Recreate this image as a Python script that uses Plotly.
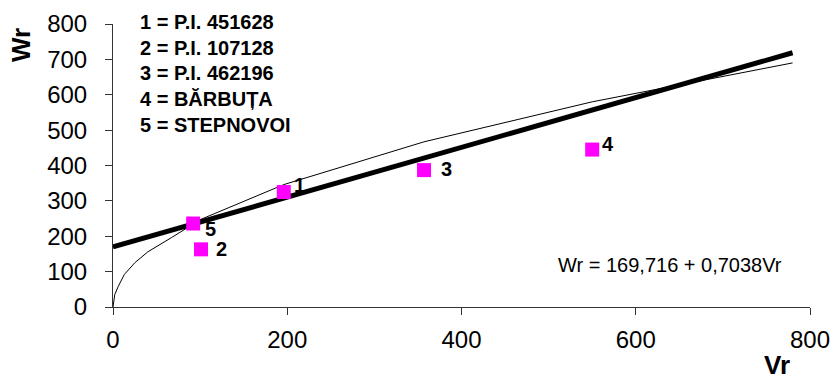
import plotly.graph_objects as go

# Data points (cultivars)
point_labels = ["1", "2", "3", "4", "5"]
point_vr = [196, 101, 357, 550, 92]
point_wr = [325, 163, 387, 445, 236]

# Regression line Wr = 169,716 + 0,7038Vr (endpoints)
reg_vr = [0, 780]
reg_wr = [169.7, 718.7]

# Thin fitted curve
curve_vr = [0, 1, 2, 6, 13, 25, 40, 67, 92, 101, 196, 357, 550, 780]
curve_wr = [0, 22, 35, 58, 92, 125, 156, 196, 236, 248, 346, 467, 580, 690]

legend_lines = ["1 = P.I. 451628", "2 = P.I. 107128", "3 = P.I. 462196",
                "4 = BĂRBUȚA", "5 = STEPNOVOI"]
equation_text = "Wr = 169,716 + 0,7038Vr"

tick_vals = [0, 200, 400, 600, 800]
ytick_vals = [0, 100, 200, 300, 400, 500, 600, 700, 800]

FONT = "Liberation Sans, Arial, sans-serif"

fig = go.Figure()
fig.add_trace(go.Scatter(x=curve_vr, y=curve_wr, mode="lines",
                         line=dict(color="black", width=1), showlegend=False,
                         cliponaxis=False, hoverinfo="skip"))
fig.add_trace(go.Scatter(x=reg_vr, y=reg_wr, mode="lines",
                         line=dict(color="black", width=5), showlegend=False,
                         cliponaxis=False, hoverinfo="skip"))
fig.add_trace(go.Scatter(x=point_vr, y=point_wr, mode="markers",
                         marker=dict(symbol="square", size=14, color="#FF00FF",
                                     line=dict(width=0)),
                         showlegend=False, cliponaxis=False))

# point labels
label_shift = {"1": (16, 7), "2": (20, 0), "3": (22, 1), "4": (16, 6), "5": (17, -5)}
for lab, xv, yv in zip(point_labels, point_vr, point_wr):
    dx, dy = label_shift[lab]
    fig.add_annotation(x=xv, y=yv, text=f"<b>{lab}</b>", showarrow=False,
                       xshift=dx, yshift=dy, xanchor="center", yanchor="middle",
                       font=dict(family=FONT, size=20, color="black"))

# legend text block
for i, line in enumerate(legend_lines):
    ypix = 22 + i * 25.7
    fig.add_annotation(xref="paper", yref="paper",
                       x=(138 - 113) / 697, y=(307 - ypix) / 283,
                       text=f"<b>{line}</b>", showarrow=False,
                       xanchor="left", yanchor="middle",
                       font=dict(family=FONT, size=20, color="black"))

# equation
fig.add_annotation(xref="paper", yref="paper",
                   x=(556 - 113) / 697, y=(307 - 265) / 283,
                   text=equation_text, showarrow=False,
                   xanchor="left", yanchor="middle",
                   font=dict(family=FONT, size=20, color="black"))

# axis titles
fig.add_annotation(xref="paper", yref="paper",
                   x=(21 - 113) / 697, y=(307 - 45) / 283,
                   text="<b>Wr</b>", textangle=-90, showarrow=False,
                   xanchor="center", yanchor="middle",
                   font=dict(family=FONT, size=26, color="black"))
fig.add_annotation(xref="paper", yref="paper",
                   x=(777 - 113) / 697, y=(307 - 365) / 283,
                   text="<b>Vr</b>", showarrow=False,
                   xanchor="center", yanchor="middle",
                   font=dict(family=FONT, size=26, color="black"))

axis_common = dict(showgrid=False, zeroline=False, showline=True,
                   linecolor="#333333", linewidth=1, ticks="outside",
                   tickcolor="#333333", ticklen=7, tickwidth=1,
                   automargin=False,
                   tickfont=dict(family=FONT, size=24, color="black"))

fig.update_xaxes(range=[0, 800], tickvals=tick_vals, ticklabelstandoff=4,
                 **axis_common)
fig.update_yaxes(range=[0, 800], tickvals=ytick_vals, ticklabelstandoff=13,
                 **axis_common)

fig.update_layout(width=834, height=381,
                  margin=dict(l=113, r=24, t=24, b=74, autoexpand=False),
                  plot_bgcolor="white", paper_bgcolor="white",
                  showlegend=False)

fig.write_html("out.html", config={"displayModeBar": False},
               post_script="document.body.style.margin='0';document.body.style.padding='0';")
